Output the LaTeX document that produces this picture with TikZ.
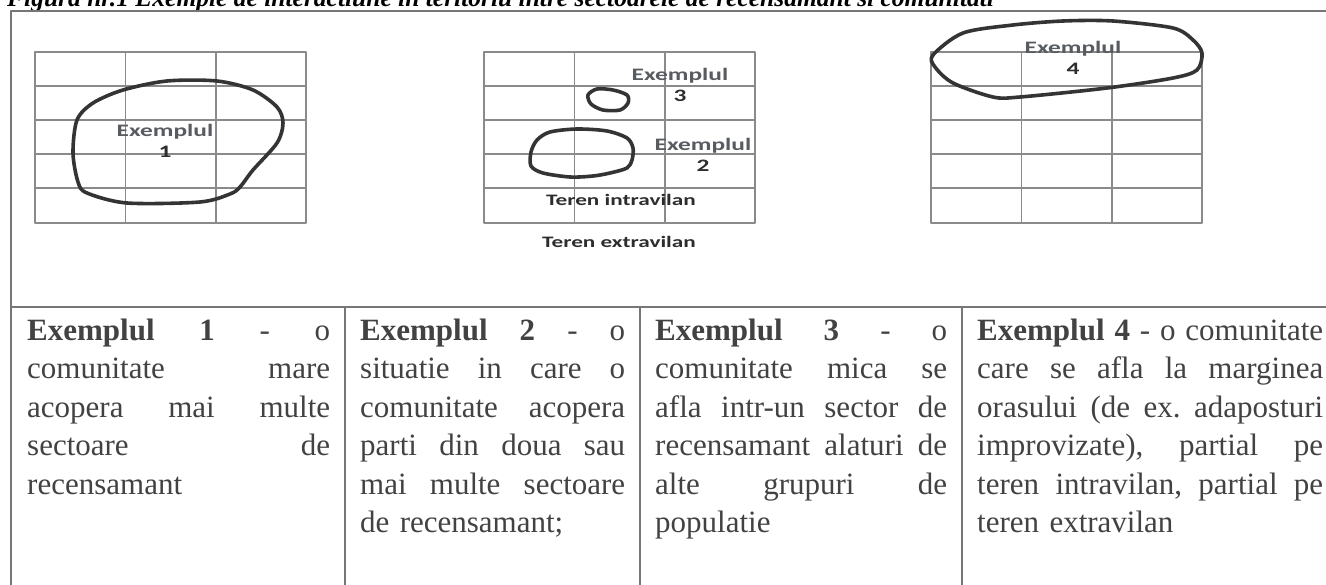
\documentclass[tikz,border=0pt]{standalone}
\usepackage{fontspec}
\usepackage{graphicx}
\setmainfont{Liberation Serif}
\newfontfamily\tagfont{Carlito}
\frenchspacing

\definecolor{inkgray}{RGB}{66,66,66}
\definecolor{rulegray}{RGB}{118,118,118}
\definecolor{gridgray}{RGB}{138,138,138}
\definecolor{blobgray}{RGB}{52,52,52}
\definecolor{taggray}{RGB}{88,92,96}
\definecolor{numgray}{RGB}{45,45,45}

\newcommand{\cellwd}{300pt}
\newcommand{\fillrow}[1]{\makebox[\cellwd][s]{\spaceskip=.25em plus 1fil\relax\strut #1}}
\newcommand{\wide}[1]{\scalebox{1.45}[1]{\strut #1}}

\begin{document}
\begin{tikzpicture}
[x=1pt,y=-1pt,line join=round,%
  every node/.style={inner sep=0pt},%
  rulefine/.style={draw=rulegray,line width=1.4pt},%
  gridline/.style={draw=gridgray,line width=1.8pt},%
  blob/.style={draw=blobgray,line width=3.6pt},%
  cell/.style={anchor=north west,align=left,text=inkgray,text width=#1,%
    /utils/exec={\renewcommand{\cellwd}{#1pt}},%
    font=\fontsize{31}{38.5}\selectfont},%
  tag/.style={align=center,text=taggray,%
    font=\tagfont\bfseries\fontsize{17.5}{21}\selectfont},%
  zone/.style={anchor=base,text=numgray,%
    font=\tagfont\bfseries\fontsize{16}{21}\selectfont}]
\useasboundingbox (0,0) rectangle (1326,584);

\node[anchor=base west,text=black,font=\fontsize{25.5}{30}\selectfont\bfseries\itshape]
  (title) at (7,6) {Figura nr.1 Exemple de interactiune in teritoriu intre sectoarele de recensamant si comunitati};

\draw[rulefine] (1340,11) -- (11,11) -- (11,600);
\draw[rulefine] (11,307) -- (1340,307);
\foreach \cx in {345,640,962}
  \draw[rulefine] (\cx,307) -- (\cx,600);

\foreach \gx in {35,484,931} {
  \draw[gridline] (\gx,52) rectangle ({\gx+271},223);
  \draw[gridline] ({\gx+90.5},52) -- ({\gx+90.5},223);
  \draw[gridline] ({\gx+181},52) -- ({\gx+181},223);
  \foreach \gy in {86,120,154,188}
    \draw[gridline] (\gx,\gy) -- ({\gx+271},\gy);
}

\draw[blob] plot[smooth cycle] coordinates {(167,81) (217,81) (253,90) (277,107)
  (283,123) (277,143) (253,170) (240,187) (230,194) (200,202) (127,203) (87,193)
  (78,182) (73,153) (77,120) (93,103) (123,90)};
\draw[blob] plot[smooth cycle] coordinates {(531,166) (531,152) (537,140) (550,132)
  (577,129) (607,131) (627,138) (633,148) (632,160) (627,168) (610,173) (593,176)
  (570,177) (543,173)};
\draw[blob] plot[smooth cycle] coordinates {(588,95) (597,89) (613,90) (627,95)
  (628,103) (620,110) (603,110) (591,104)};
\draw[blob] plot[smooth cycle] coordinates {(933,55) (963,33) (1013,25) (1063,21)
  (1113,21) (1173,28) (1193,40) (1202,53) (1197,70) (1173,78) (1107,88) (1020,97)
  (993,97) (953,83) (935,67)};

\node[tag] (tagA) at (165,143) {\wide{Exemplul}\\\wide{\color{numgray}1}};
\node[tag] (tagB) at (703,157) {\wide{Exemplul}\\\wide{\color{numgray}2}};
\node[tag] (tagC) at (680,87) {\wide{Exemplul}\\\wide{\color{numgray}3}};
\node[tag] (tagD) at (1073,60) {\wide{Exemplul}\\\wide{\color{numgray}4}};
\node[zone] (intra) at (621,205) {\wide{Teren intravilan}};
\node[zone] (extra) at (619,247) {\wide{Teren extravilan}};

\node[cell=303] (descA) at (27,313) {%
  \fillrow{\textbf{Exemplul 1} - o}\\
  \fillrow{comunitate mare}\\
  \fillrow{acopera mai multe}\\
  \fillrow{sectoare de}\\
  \strut recensamant};
\node[cell=265] (descB) at (360,313) {%
  \fillrow{\textbf{Exemplul 2} - o}\\
  \fillrow{situatie in care o}\\
  \fillrow{comunitate acopera}\\
  \fillrow{parti din doua sau}\\
  \fillrow{mai multe sectoare}\\
  \strut de recensamant;};
\node[cell=292] (descC) at (655,313) {%
  \fillrow{\textbf{Exemplul 3} - o}\\
  \fillrow{comunitate mica se}\\
  \fillrow{afla intr-un sector de}\\
  \fillrow{recensamant alaturi de}\\
  \fillrow{alte grupuri de}\\
  \strut populatie};
\node[cell=346] (descD) at (977,313) {%
  \fillrow{\textbf{Exemplul 4} - o comunitate}\\
  \fillrow{care se afla la marginea}\\
  \fillrow{orasului (de ex. adaposturi}\\
  \fillrow{improvizate), partial pe}\\
  \fillrow{teren intravilan, partial pe}\\
  \strut teren extravilan};
\end{tikzpicture}
\end{document}
